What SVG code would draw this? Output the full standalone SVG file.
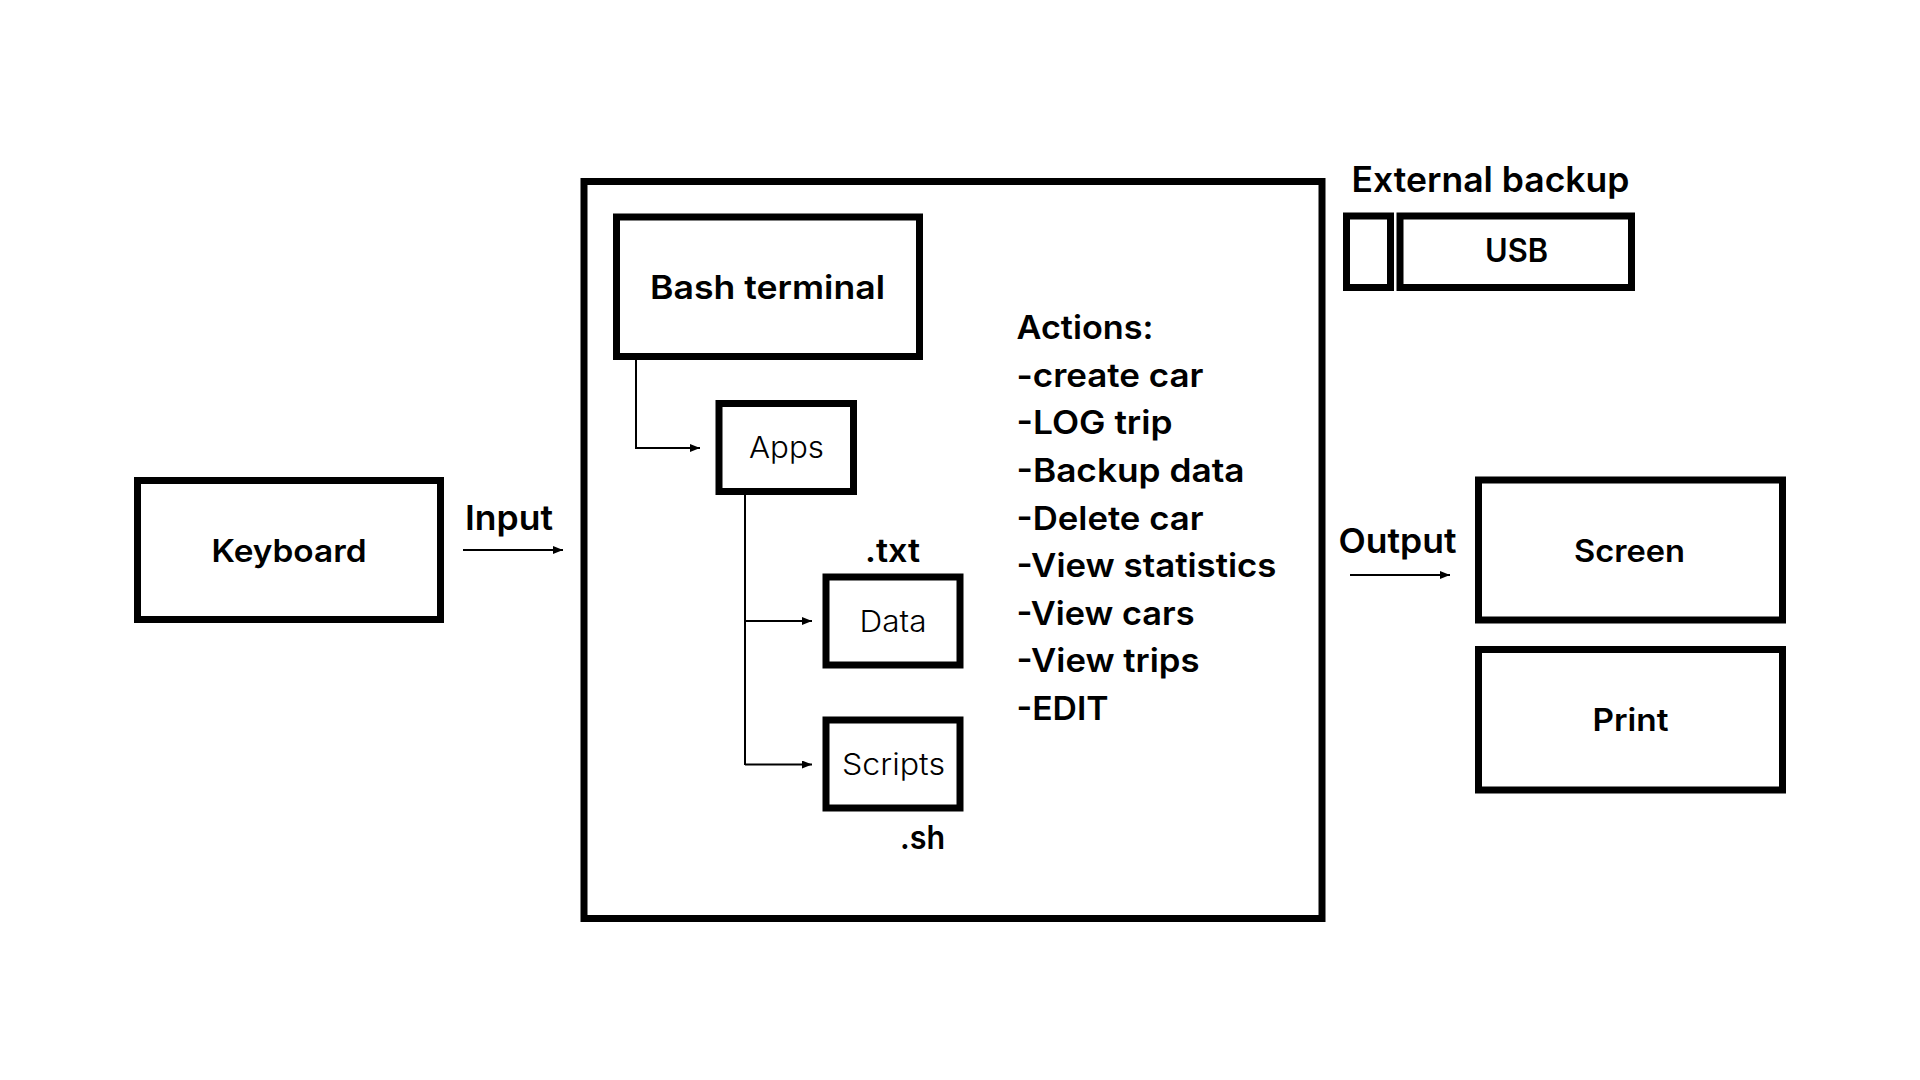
<svg xmlns="http://www.w3.org/2000/svg" width="1920" height="1080" viewBox="0 0 1920 1080">
  <defs>
    <style>
      .box { fill: none; stroke: #000; stroke-width: 7; }
      .conn { fill: none; stroke: #000; stroke-width: 2; }
      .t { font-family: Inter, "Noto Sans", "Liberation Sans", sans-serif; fill: #000; }
      .b { font-weight: 600; }
      .l { font-weight: 300; }
      .c { text-anchor: middle; }
    </style>
    <marker id="arr" markerWidth="10" markerHeight="8" refX="10" refY="4" orient="auto" markerUnits="userSpaceOnUse">
      <path d="M0,0 L10,4 L0,8 Z" fill="#000"/>
    </marker>
  </defs>
  <rect width="1920" height="1080" fill="#fff"/>

  <g id="system">
    <rect class="box" x="584" y="181.5" width="738" height="737"/>
  </g>

  <g id="bash-terminal">
    <rect class="box" x="616.5" y="217" width="303" height="139.5"/>
    <text class="t b c" x="767.5" y="299" font-size="33" textLength="235" lengthAdjust="spacingAndGlyphs">Bash terminal</text>
  </g>

  <g id="apps">
    <rect class="box" x="719" y="403.5" width="134.5" height="88"/>
    <text class="t l c" x="786.5" y="458" font-size="30" textLength="75" lengthAdjust="spacingAndGlyphs">Apps</text>
  </g>

  <g id="data">
    <rect class="box" x="826" y="577" width="134" height="88"/>
    <text class="t l c" x="893" y="631.5" font-size="30" textLength="67" lengthAdjust="spacingAndGlyphs">Data</text>
    <text class="t b c" x="892.5" y="562" font-size="32" textLength="55" lengthAdjust="spacingAndGlyphs">.txt</text>
  </g>

  <g id="scripts">
    <rect class="box" x="826" y="720" width="134" height="88"/>
    <text class="t l c" x="893.5" y="775" font-size="30" textLength="103" lengthAdjust="spacingAndGlyphs">Scripts</text>
    <text class="t b c" x="922.5" y="848.5" font-size="32" textLength="45" lengthAdjust="spacingAndGlyphs">.sh</text>
  </g>

  <g id="actions">
    <text class="t b" x="1016.5" font-size="33" lengthAdjust="spacingAndGlyphs">
      <tspan x="1016.5" y="339" textLength="137" lengthAdjust="spacingAndGlyphs">Actions:</tspan>
      <tspan x="1016.5" y="386.5" textLength="187" lengthAdjust="spacingAndGlyphs">-create car</tspan>
      <tspan x="1016.5" y="434" textLength="156" lengthAdjust="spacingAndGlyphs">-LOG trip</tspan>
      <tspan x="1016.5" y="481.5" textLength="228" lengthAdjust="spacingAndGlyphs">-Backup data</tspan>
      <tspan x="1016.5" y="529.5" textLength="187" lengthAdjust="spacingAndGlyphs">-Delete car</tspan>
      <tspan x="1016.5" y="577" textLength="260" lengthAdjust="spacingAndGlyphs">-View statistics</tspan>
      <tspan x="1016.5" y="625" textLength="178" lengthAdjust="spacingAndGlyphs">-View cars</tspan>
      <tspan x="1016.5" y="672" textLength="183" lengthAdjust="spacingAndGlyphs">-View trips</tspan>
      <tspan x="1016.5" y="720" textLength="92" lengthAdjust="spacingAndGlyphs">-EDIT</tspan>
    </text>
  </g>

  <g id="keyboard">
    <rect class="box" x="137.5" y="480.5" width="303" height="139"/>
    <text class="t b c" x="289" y="562" font-size="31" textLength="155" lengthAdjust="spacingAndGlyphs">Keyboard</text>
  </g>

  <g id="usb">
    <text class="t b" x="1351.5" y="191.5" font-size="35" textLength="278" lengthAdjust="spacingAndGlyphs">External backup</text>
    <rect class="box" x="1346.5" y="216" width="44" height="71.5"/>
    <rect class="box" x="1400" y="216" width="231.5" height="71.5"/>
    <text class="t b c" x="1516.5" y="261.5" font-size="32" textLength="63" lengthAdjust="spacingAndGlyphs">USB</text>
  </g>

  <g id="screen">
    <rect class="box" x="1478.5" y="480" width="304" height="140"/>
    <text class="t b c" x="1629.5" y="561.5" font-size="31" textLength="111" lengthAdjust="spacingAndGlyphs">Screen</text>
  </g>

  <g id="print">
    <rect class="box" x="1478.5" y="649.5" width="304" height="140.5"/>
    <text class="t b c" x="1630.5" y="730.5" font-size="31" textLength="76" lengthAdjust="spacingAndGlyphs">Print</text>
  </g>

  <g id="labels">
    <text class="t b c" x="509" y="530" font-size="34" textLength="88" lengthAdjust="spacingAndGlyphs">Input</text>
    <text class="t b c" x="1397.5" y="553" font-size="34" textLength="118" lengthAdjust="spacingAndGlyphs">Output</text>
  </g>

  <g id="connectors">
    <line class="conn" x1="463" y1="550" x2="563" y2="550" marker-end="url(#arr)"/>
    <line class="conn" x1="1350" y1="575" x2="1450" y2="575" marker-end="url(#arr)"/>
    <polyline class="conn" points="636,358 636,448 700,448" marker-end="url(#arr)"/>
    <polyline class="conn" points="745,495 745,765" />
    <line class="conn" x1="745" y1="621" x2="812" y2="621" marker-end="url(#arr)"/>
    <line class="conn" x1="745" y1="764.5" x2="812" y2="764.5" marker-end="url(#arr)"/>
  </g>
</svg>
